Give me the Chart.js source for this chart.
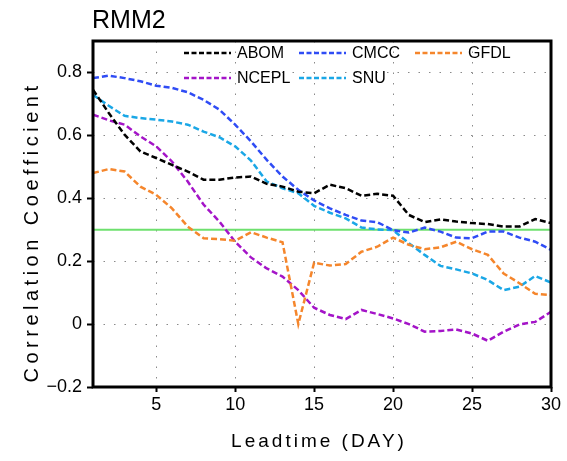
<!DOCTYPE html>
<html>
<head>
<meta charset="utf-8">
<script src="https://cdn.jsdelivr.net/npm/chart.js@4"></script>
<style>
  body { margin: 0; background: #fff; }
  canvas { display: block; }
</style>
</head>
<body>
<canvas id="myChart" width="567" height="461"></canvas>
<script>
// leadtime in days
const days = [1, 2, 3, 4, 5, 6, 7, 8, 9, 10, 11, 12, 13, 14, 15, 16, 17, 18, 19, 20, 21, 22, 23, 24, 25, 26, 27, 28, 29, 30];

const abom = [0.745, 0.671, 0.602, 0.549, 0.528, 0.506, 0.485, 0.459, 0.459, 0.466, 0.469, 0.446, 0.437, 0.421, 0.416,
              0.443, 0.432, 0.408, 0.414, 0.408, 0.347, 0.324, 0.333, 0.326, 0.321, 0.318, 0.310, 0.310, 0.334, 0.321];
const cmcc = [0.782, 0.790, 0.782, 0.772, 0.758, 0.751, 0.737, 0.713, 0.682, 0.634, 0.581, 0.522, 0.469, 0.427, 0.393,
              0.368, 0.347, 0.329, 0.324, 0.299, 0.291, 0.307, 0.294, 0.275, 0.273, 0.294, 0.294, 0.275, 0.262, 0.236];
const gfdl = [0.480, 0.493, 0.485, 0.437, 0.411, 0.368, 0.310, 0.273, 0.270, 0.265, 0.292, 0.275, 0.260, 0.000, 0.195,
              0.186, 0.191, 0.230, 0.246, 0.275, 0.252, 0.238, 0.244, 0.262, 0.238, 0.220, 0.161, 0.130, 0.096, 0.092];
const ncepl = [0.666, 0.648, 0.634, 0.597, 0.565, 0.517, 0.453, 0.380, 0.326, 0.262, 0.212, 0.177, 0.151, 0.108, 0.052,
               0.029, 0.016, 0.045, 0.032, 0.018, 0.000, -0.024, -0.022, -0.017, -0.030, -0.053, -0.024, -0.001, 0.007, 0.039];
const snu = [0.729, 0.694, 0.662, 0.655, 0.650, 0.644, 0.634, 0.612, 0.594, 0.565, 0.520, 0.453, 0.432, 0.416, 0.376,
             0.354, 0.336, 0.307, 0.301, 0.299, 0.257, 0.220, 0.185, 0.174, 0.161, 0.140, 0.108, 0.119, 0.153, 0.132];

const threshold = 0.3;

const xTicks = [5, 10, 15, 20, 25, 30];
const yTicks = [-0.2, 0, 0.2, 0.4, 0.6, 0.8];

const FONT = "'Liberation Sans', Arial, sans-serif";

function series(label, values, color) {
    return {
        label: label,
        data: days.map((d, i) => ({ x: d, y: values[i] })),
        borderColor: color,
        borderWidth: 2.5,
        borderDash: [6, 3],
        pointRadius: 0,
        tension: 0,
        fill: false,
    };
}

// title, axis titles, legend inside plot and the frame
const decorations = {
    id: "decorations",
    afterDraw(chart) {
        const ctx = chart.ctx;
        const a = chart.chartArea;
        ctx.save();

        // frame
        ctx.strokeStyle = "#000";
        ctx.lineWidth = 3;
        ctx.setLineDash([]);
        ctx.strokeRect(a.left, a.top, a.right - a.left, a.bottom - a.top);

        ctx.fillStyle = "#000";
        ctx.textBaseline = "alphabetic";

        // chart title
        ctx.font = "25px " + FONT;
        ctx.textAlign = "left";
        ctx.fillText("RMM2", a.left - 1, a.top - 13);

        // x title
        ctx.font = "19px " + FONT;
        ctx.letterSpacing = "3px";
        ctx.textAlign = "center";
        ctx.fillText("Leadtime (DAY)", (a.left + a.right) / 2 - 3, 447);

        // y title
        ctx.font = "20px " + FONT;
        ctx.letterSpacing = "4.5px";
        ctx.translate(38, 232);
        ctx.rotate(-Math.PI / 2);
        ctx.fillText("Correlation Coefficient", 0, 0);
        ctx.setTransform(1, 0, 0, 1, 0, 0);
        ctx.letterSpacing = "0px";

        // legend
        const cols = [91, 206, 322];
        const rows = [12, 37];
        const items = chart.data.datasets.filter(ds => ds.label);
        ctx.font = "16px " + FONT;
        ctx.textAlign = "left";
        ctx.textBaseline = "middle";
        items.forEach((ds, i) => {
            const x = a.left + cols[i % 3];
            const y = a.top + rows[Math.floor(i / 3)];
            ctx.strokeStyle = ds.borderColor;
            ctx.lineWidth = 2.5;
            ctx.setLineDash([5, 2.5]);
            ctx.beginPath();
            ctx.moveTo(x, y);
            ctx.lineTo(x + 47, y);
            ctx.stroke();
            ctx.fillStyle = "#000";
            ctx.fillText(ds.label, x + 53, y + 1);
        });
        ctx.restore();
    }
};

const ctx = document.getElementById("myChart");

let myChart = new Chart(ctx, {
    type: "line",
    data: {
        datasets: [
            series("ABOM", abom, "#000000"),
            series("CMCC", cmcc, "#2f4cf5"),
            series("GFDL", gfdl, "#f5862c"),
            series("NCEPL", ncepl, "#a414c8"),
            series("SNU", snu, "#1aa7e6"),
            {
                label: "",
                data: [{ x: days[0], y: threshold }, { x: days[days.length - 1], y: threshold }],
                borderColor: "#6ee06e",
                borderWidth: 2,
                pointRadius: 0,
                fill: false,
            },
        ],
    },
    options: {
        responsive: false,
        animation: false,
        layout: { padding: { top: 41, right: 16, left: 0, bottom: 0 } },
        plugins: {
            legend: { display: false },
            title: { display: false },
            tooltip: { enabled: false },
        },
        scales: {
            x: {
                type: "linear",
                min: 1,
                max: 30,
                afterBuildTicks: s => { s.ticks = xTicks.map(v => ({ value: v })); },
                afterFit: s => { s.height = 74; },
                ticks: {
                    color: "#000",
                    font: { family: FONT, size: 18 },
                    padding: 2,
                    maxRotation: 0,
                },
                grid: {
                    color: "#8a8a8a",
                    lineWidth: 1,
                    tickColor: "#000",
                    tickWidth: 2,
                    tickLength: 5,
                    tickBorderDash: [],
                },
                border: { display: false, dash: [1.5, 9] },
            },
            y: {
                min: -0.2,
                max: 0.9,
                afterBuildTicks: s => { s.ticks = yTicks.map(v => ({ value: v })); },
                afterFit: s => { s.width = 93; },
                ticks: {
                    color: "#000",
                    font: { family: FONT, size: 18 },
                    padding: 5,
                    callback: v => Math.abs(v) < 1e-9 ? "0" : v.toFixed(1).replace("-", "\u2212"),
                },
                grid: {
                    color: "#8a8a8a",
                    lineWidth: 1,
                    tickColor: "#000",
                    tickWidth: 2,
                    tickLength: 6,
                    tickBorderDash: [],
                },
                border: { display: false, dash: [1.5, 9] },
            },
        },
    },
    plugins: [decorations],
});
</script>
</body>
</html>
